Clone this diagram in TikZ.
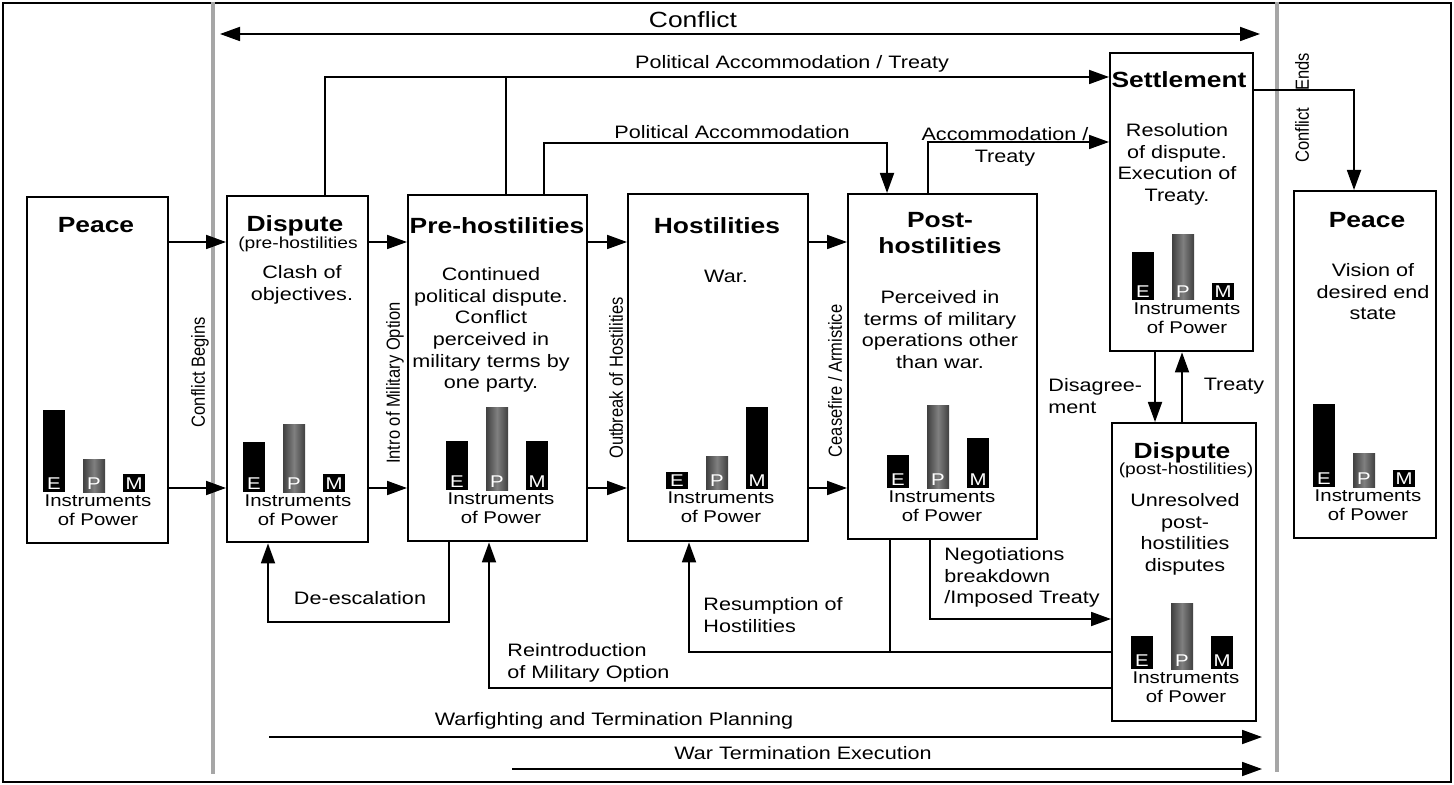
\documentclass[tikz,border=0pt]{standalone}
\usepackage{fontspec}
\setmainfont{Liberation Sans}[FakeStretch=1.2]
\newfontfamily\rotfont{Liberation Sans}[FakeStretch=0.87]
\usetikzlibrary{arrows.meta}

% instruments of power: name, x of E bar, bar bottom, heights of E P M
\newcommand{\iopbars}[6]{%
  \fill[black] (#2,#3) rectangle ++(22,-#4);
  \shade[left color=black!75,right color=black!75,middle color=black!50] (#2+40,#3) rectangle ++(22,-#5);
  \fill[black] (#2+80,#3) rectangle ++(22,-#6);
  \node[letr] (#1-E) at (#2+11,#3-8) {E};
  \node[letr] (#1-P) at (#2+51,#3-8) {P};
  \node[letr] (#1-M) at (#2+91,#3-8) {M};
  \node[iop] (#1-iop) at (#2+55,#3+2) {Instruments\\of Power};
}

\begin{document}
\begin{tikzpicture}[x=0.5pt,y=-0.5pt,
    phase/.style={draw,line width=1.2pt,inner sep=0,anchor=north west},
    title/.style={font=\fontsize{11}{13}\selectfont\bfseries,align=center,inner sep=0,anchor=north},
    body/.style={font=\fontsize{9}{10.85}\selectfont,align=center,inner sep=0,anchor=north},
    small/.style={font=\fontsize{8}{9}\selectfont,inner sep=0,anchor=north},
    lbl/.style={font=\fontsize{9}{10.85}\selectfont,inner sep=0},
    side/.style={font=\rotfont\fontsize{9.5}{11}\selectfont,rotate=90,inner sep=0},
    iop/.style={font=\fontsize{8.5}{9.8}\selectfont,align=center,inner sep=0,anchor=north},
    letr/.style={font=\fontsize{8.5}{9}\selectfont,text=white,inner sep=0},
    flow/.style={line width=0.9pt,-{Triangle[length=10pt,width=7pt]}},
    link/.style={line width=0.9pt},
    phaseline/.style={line width=2pt,draw=gray!70}]
  \useasboundingbox (0,0) rectangle (1454,785);

  % frame and phase limits
  \draw[line width=1pt] (3,3) rectangle (1451,782);
  \draw[phaseline] (213,2) -- (213,774);
  \draw[phaseline] (1277,2) -- (1277,772);

  % conflict span
  \coordinate (cL) at (220,34);
  \coordinate (cR) at (1260,34);
  \draw[line width=0.9pt,{Triangle[length=10pt,width=7pt]}-{Triangle[length=10pt,width=7pt]}] (cL) -- (cR);
  \node[font=\fontsize{11}{13}\selectfont,inner sep=0] (conflict) at (693,20) {Conflict};

  % phases
  \node[phase,minimum width=70.5pt,minimum height=173pt] (peaceA) at (26,196) {};
  \node[phase,minimum width=70.5pt,minimum height=173pt] (disputeA) at (226,195) {};
  \node[phase,minimum width=89.5pt,minimum height=173pt] (prehost) at (407,194) {};
  \node[phase,minimum width=90pt,minimum height=173.5pt] (host) at (627,193) {};
  \node[phase,minimum width=94.5pt,minimum height=172.5pt] (posthost) at (847,193) {};
  \node[phase,minimum width=71.5pt,minimum height=149pt] (settle) at (1109,52) {};
  \node[phase,minimum width=72pt,minimum height=149pt] (disputeB) at (1111,422) {};
  \node[phase,minimum width=71pt,minimum height=173.5pt] (peaceB) at (1293,190) {};

  % texts in the phases
  \node[title] (peaceA-t) at (96,217) {Peace};
  \node[title] (disputeA-t) at (295,215) {Dispute};
  \node[small] (disputeA-s) at (298,237) {(pre-hostilities};
  \node[body] (disputeA-b) at (302,265) {Clash of\\objectives.};
  \node[title] (prehost-t) at (497,217) {Pre-hostilities};
  \node[body] (prehost-b) at (491,267) {Continued\\political dispute.\\Conflict\\perceived in\\military terms by\\one party.};
  \node[title] (host-t) at (717,217) {Hostilities};
  \node[body] (host-b) at (726,270) {War.};
  \node[title] (posthost-t) at (940,212) {Post-\\hostilities};
  \node[body] (posthost-b) at (940,290) {Perceived in\\terms of military\\operations other\\than war.};
  \node[title] (settle-t) at (1179,71) {Settlement};
  \node[body] (settle-b) at (1177,123) {Resolution\\of dispute.\\Execution of\\Treaty.};
  \node[title] (disputeB-t) at (1182,442) {Dispute};
  \node[small] (disputeB-s) at (1186,463) {(post-hostilities)};
  \node[body] (disputeB-b) at (1185,493) {Unresolved\\post-\\hostilities\\disputes};
  \node[title] (peaceB-t) at (1367,212) {Peace};
  \node[body] (peaceB-b) at (1373,263) {Vision of\\desired end\\state};

  \iopbars{peaceA}{43}{492}{82}{33}{18}
  \iopbars{disputeA}{243}{492}{50}{67}{18}
  \iopbars{prehost}{446}{490}{49}{82}{49}
  \iopbars{host}{666}{489}{17}{33}{82}
  \iopbars{posthost}{887}{488}{33}{82}{50}
  \iopbars{settle}{1132}{300}{48}{65}{17}
  \iopbars{disputeB}{1131}{669}{33}{66}{33}
  \iopbars{peaceB}{1313}{487}{83}{34}{17}

  % transitions
  \coordinate (yhi) at (0,242);
  \coordinate (ylo) at (0,488);
  \draw[flow] (peaceA.east |- yhi) -- (disputeA.west |- yhi);
  \draw[flow] (peaceA.east |- ylo) -- (disputeA.west |- ylo);
  \draw[flow] (disputeA.east |- yhi) -- (prehost.west |- yhi);
  \draw[flow] (disputeA.east |- ylo) -- (prehost.west |- ylo);
  \draw[flow] (prehost.east |- yhi) -- (host.west |- yhi);
  \draw[flow] (prehost.east |- ylo) -- (host.west |- ylo);
  \draw[flow] (host.east |- yhi) -- (posthost.west |- yhi);
  \draw[flow] (host.east |- ylo) -- (posthost.west |- ylo);

  \node[side] (begins) at (200,372) {Conflict Begins};
  \node[side] (intro) at (395,383) {Intro of Military Option};
  \node[side] (outbreak) at (616,378) {Outbreak of Hostilities};
  \node[side] (ceasefire) at (835,381) {Ceasefire / Armistice};
  \node[side] (ends) at (1302,108) {Conflict\hspace{8.5pt}Ends};

  % routes above
  \coordinate (pat) at (325,77);
  \coordinate (patj) at (506,77);
  \draw[flow] (disputeA.north -| pat) |- (settle.west |- pat);
  \draw[link] (prehost.north -| patj) -- (patj);
  \node[lbl] (pat-l) at (792,64) {Political Accommodation / Treaty};

  \coordinate (pa1) at (544,143);
  \coordinate (pa2) at (887,143);
  \draw[flow] (prehost.north -| pa1) -- (pa1) -- (pa2) -- (posthost.north -| pa2);
  \node[lbl] (pa-l) at (732,132) {Political Accommodation};

  \coordinate (at) at (928,142);
  \draw[flow] (posthost.north -| at) |- (settle.west |- at);
  \node[lbl,align=center,anchor=north] (at-l) at (1005,127) {Accommodation /\\Treaty};

  \coordinate (ce) at (1354,90);
  \draw[flow] (settle.east |- ce) -| (peaceB.north -| ce);

  \coordinate (dg) at (1155,380);
  \coordinate (tr) at (1182,380);
  \draw[flow] (settle.south -| dg) -- (disputeB.north -| dg);
  \draw[flow] (disputeB.north -| tr) -- (settle.south -| tr);
  \node[lbl,align=left,anchor=north west] (dg-l) at (1048,378) {Disagree-\\ment};
  \node[lbl] (tr-l) at (1234,386) {Treaty};

  % routes below
  \coordinate (de1) at (449,622);
  \coordinate (de2) at (268,622);
  \draw[flow] (prehost.south -| de1) -- (de1) -- (de2) -- (disputeA.south -| de2);
  \node[lbl] (de-l) at (360,598) {De-escalation};

  \coordinate (ri) at (489,688);
  \draw[flow] (disputeB.west |- ri) -| (prehost.south -| ri);
  \node[lbl,align=left,anchor=north west] (ri-l) at (507,643) {Reintroduction\\of Military Option};

  \coordinate (rs) at (689,652);
  \coordinate (rsj) at (890,652);
  \draw[flow] (disputeB.west |- rs) -| (host.south -| rs);
  \draw[link] (posthost.south -| rsj) -- (rsj);
  \node[lbl,align=left,anchor=north west] (rs-l) at (703,597) {Resumption of\\Hostilities};

  \coordinate (ng) at (930,619);
  \draw[flow] (posthost.south -| ng) |- (disputeB.west |- ng);
  \node[lbl,align=left,anchor=north west] (ng-l) at (944,547) {Negotiations\\breakdown\\/Imposed Treaty};

  % planning and execution
  \coordinate (wf1) at (269,737);
  \coordinate (wf2) at (1262,737);
  \draw[flow] (wf1) -- (wf2);
  \node[lbl] (wf-l) at (614,721) {Warfighting and Termination Planning};
  \coordinate (we1) at (512,769);
  \coordinate (we2) at (1262,769);
  \draw[flow] (we1) -- (we2);
  \node[lbl] (we-l) at (803,753) {War Termination Execution};
\end{tikzpicture}
\end{document}
